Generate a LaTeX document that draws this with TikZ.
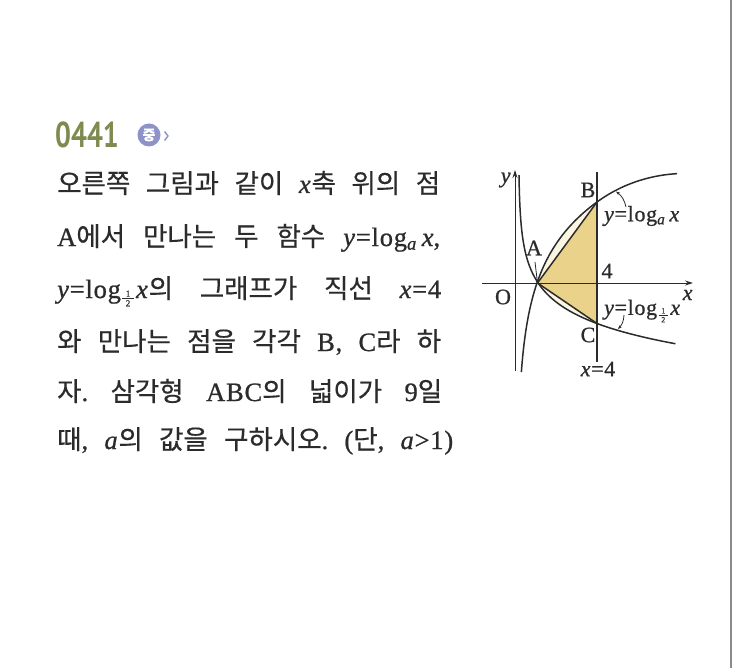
\documentclass[tikz,border=0pt]{standalone}
\usepackage{fontspec}
\setmainfont{Liberation Serif}[FakeBold=0.8,LetterSpace=3]
\newfontfamily\kr{Noto Sans CJK KR}[FakeBold=0.4]
\newfontfamily\numfont[FakeStretch=0.78]{PT Sans}
\newfontfamily\fracfont{Liberation Serif}[FakeBold=0.5]
\usetikzlibrary{arrows.meta}
\definecolor{olive}{HTML}{7E8A50}
\definecolor{badge}{HTML}{8E92C9}
\definecolor{fillY}{HTML}{EAD28A}
\definecolor{fillP}{HTML}{FBF6E2}
\definecolor{ink}{HTML}{2B2B2B}
\definecolor{rulec}{HTML}{8A8A8A}
\newcommand\mi[1]{\textit{#1}}
% log with a stacked 1/2 base: #1 = digit size in pt
\newcommand\loghalf[1]{log\kern1.5pt\raisebox{-0.55ex}{$\vcenter{\hbox to 0.42em{\hss\fracfont\fontsize{#1}{#1}\selectfont 1\hss}\kern1.6pt\hrule height0.5pt\kern1.6pt\hbox to 0.42em{\hss\fracfont\fontsize{#1}{#1}\selectfont 2\hss}}$}\kern2.5pt}
\frenchspacing
\begin{document}
\begin{tikzpicture}[x=1pt,y=-1pt,line join=round,
  curve/.style={draw=ink,line width=1.5pt},
  axis/.style={draw=ink,line width=1pt,-{Stealth[length=8pt,width=5pt]}},
  body/.style={anchor=base west,inner sep=0pt,font=\fontsize{26.5}{26.5}\selectfont,text=ink},
  lab/.style={inner sep=0pt,font=\fontsize{22}{22}\selectfont,text=ink},
  leader/.style={draw=ink,line width=0.8pt,-{Stealth[length=4pt,width=3pt]}}]
\useasboundingbox (0,0) rectangle (754,668);
\fill[white] (0,0) rectangle (754,668);
% right rule
\draw[rulec,line width=1.3pt] (731,0) -- (731,668);
% header
\node[anchor=base west,text=olive,inner sep=0pt,font=\numfont\bfseries\fontsize{36}{36}\selectfont] (num) at (55,148) {0441};
\node[circle,fill=badge,minimum size=23pt,inner sep=0pt,text=white,font=\kr\bfseries\fontsize{14}{14}\selectfont] (lvl) at (149,135) {중};
\draw[badge,line width=1.4pt] (164.5,131.5) -- (168,136) -- (164.5,140.5);
% body text
\node[body] (l1) at (57,193) {\makebox[383pt][s]{{\kr 오른쪽} {\kr 그림과} {\kr 같이} \mi{x}{\kr 축} {\kr 위의} {\kr 점}}};
\node[body] (l2) at (57,246) {\makebox[383pt][s]{A{\kr 에서} {\kr 만나는} {\kr 두} {\kr 함수} \mi{y}{=}log\textsubscript{\mi{a}}\,\mi{x},}};
\node[body] (l3) at (57,298) {\makebox[384pt][s]{\mi{y}{=}\loghalf{9}\mi{x}{\kr 의} {\kr 그래프가} {\kr 직선} \mi{x}{=}4}};
\node[body] (l4) at (57,351) {\makebox[384pt][s]{{\kr 와} {\kr 만나는} {\kr 점을} {\kr 각각} B, C{\kr 라} {\kr 하}}};
\node[body] (l5) at (57,401) {\makebox[385pt][s]{{\kr 자}. {\kr 삼각형} ABC{\kr 의} {\kr 넓이가} 9{\kr 일}}};
\node[body] (l6) at (57,449) {\makebox[396pt][s]{{\kr 때}, \mi{a}{\kr 의} {\kr 값을} {\kr 구하시오}. ({\kr 단}, \mi{a}{>}1)}};
% graph points
\coordinate (O) at (515,283);
\coordinate (A) at (537.5,283);
\coordinate (B) at (597,202);
\coordinate (C) at (597,323.5);
% fills
\fill[fillY] (A) -- (B) -- (C) -- cycle;
\fill[fillP] plot[domain=0:2,samples=40,variable=\s] ({517+20*pow(2,\s)},{283-40.5*\s}) -- cycle;
\fill[fillP] plot[domain=0:2,samples=40,variable=\s] ({518.5+19.625*pow(2,\s)},{283+20.25*\s}) -- cycle;
% axes
\coordinate (xs) at (482,283);
\coordinate (xe) at (693,283);
\coordinate (ys) at (515,371);
\coordinate (ye) at (515,170);
\draw[axis] (xs) -- (xe);
\draw[axis] (ys) -- (ye);
\coordinate (vs) at (597,172);
\coordinate (ve) at (597,362);
\draw[draw=ink,line width=1.1pt] (vs) -- (ve);
% curves
\draw[curve] plot[domain=-2.2:2,samples=80,variable=\s] ({517+20*pow(2,\s)},{283-40.5*\s})
  -- plot[domain=4:8,samples=30,variable=\t] ({517+20*\t},{283-20.25*(2*ln(\t)/ln(2)-0.0375*(\t-4)^2)});
\draw[curve] plot[domain=-5.33:3,samples=100,variable=\s] ({518.5+19.625*pow(2,\s)},{283+20.25*\s});
\draw[curve] (B) -- (A) -- (C);
% labels
\node[lab] (ylab) at (506,180) {\mi{y}};
\node[lab] (xlab) at (688,295) {\mi{x}};
\node[lab] (Olab) at (503,297) {O};
\node[lab] (Alab) at (534,248) {A};
\node[lab] (Blab) at (588,190) {B};
\node[lab] (Clab) at (588,335) {C};
\node[lab] (four) at (607,271) {4};
\node[lab,anchor=west] (fa) at (604,216) {\mi{y}{=}log\textsubscript{\mi{a}}\,\mi{x}};
\node[lab,anchor=west] (fh) at (604,311) {\mi{y}{=}\loghalf{8}\mi{x}};
\node[lab] (x4) at (598,369) {\mi{x}{=}4};
% leaders
\coordinate (fa1) at (626,207);
\coordinate (fa2) at (616,191.5);
\draw[leader] (fa1) to[bend right=20] (fa2);
\coordinate (fh1) at (624,315);
\coordinate (fh2) at (618,329);
\draw[leader] (fh1) to[bend left=20] (fh2);
\coordinate (a1) at (535,262);
\draw[leader] (a1) -- (A);
\end{tikzpicture}
\end{document}
